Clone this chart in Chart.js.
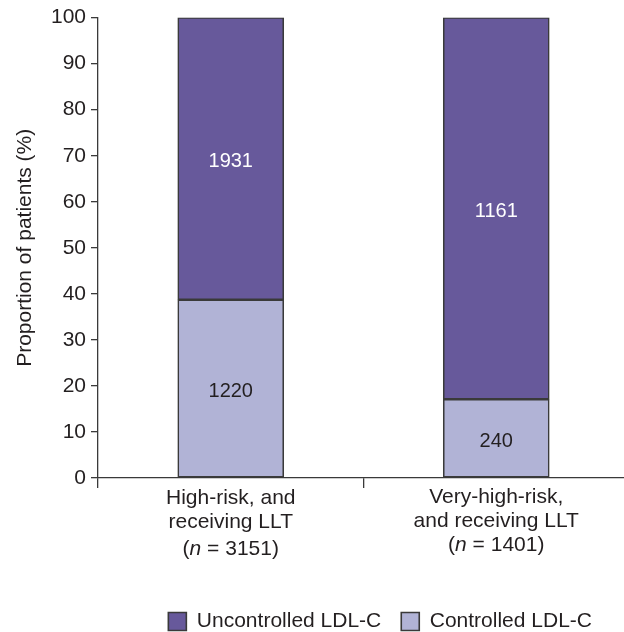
<!DOCTYPE html>
<html>
<head>
<meta charset="utf-8">
<script src="https://cdn.jsdelivr.net/npm/chart.js@4/dist/chart.umd.min.js"></script>
<style>
html,body{margin:0;padding:0;background:#fff;overflow:hidden;}
#wrap{width:624px;height:632px;position:relative;}
</style>
</head>
<body>
<div id="wrap"><canvas id="c" width="624" height="632"></canvas></div>
<script>
// ---- data ----
const categoryLines = [["High-risk, and", "receiving LLT"], ["Very-high-risk,", "and receiving LLT"]];
const categoryN = [3151, 1401];
const controlledPct = [38.7, 17.1];
const uncontrolledPct = [61.3, 82.9];
const controlledCounts = [1220, 240];
const uncontrolledCounts = [1931, 1161];
const seriesNames = ["Controlled LDL-C", "Uncontrolled LDL-C"];
const yTicks = [0, 10, 20, 30, 40, 50, 60, 70, 80, 90, 100];

const FONT = "'Liberation Sans', Arial, Helvetica, sans-serif";
const TXT = '#231f20';
const AXIS = '#3a3a3a';
const FS = 21;

const barLabelPlugin = {
  id: 'barLabels',
  afterDatasetsDraw(chart) {
    const ctx = chart.ctx;
    const counts = [controlledCounts, uncontrolledCounts];
    const colors = [TXT, '#ffffff'];
    ctx.save();
    ctx.font = '20px ' + FONT;
    ctx.textAlign = 'center';
    ctx.textBaseline = 'middle';
    chart.data.datasets.forEach((ds, di) => {
      const meta = chart.getDatasetMeta(di);
      meta.data.forEach((el, i) => {
        const yc = (el.y + el.base) / 2 + 3;
        ctx.fillStyle = colors[di];
        ctx.fillText(String(counts[di][i]), el.x, yc);
      });
    });
    ctx.restore();
  }
};

const layoutTweakPlugin = {
  id: 'layoutTweak',
  afterLayout(chart) {
    const lg = chart.legend;
    if (lg) { lg.top += 10; lg.bottom += 10; lg.left -= 12; lg.right -= 12; }
    const xs = chart.scales.x;
    if (xs) { xs.right += 5; xs.width += 5; xs.configure(); }
  }
};

const xLabelPlugin = {
  id: 'xLabels',
  afterDraw(chart) {
    const ctx = chart.ctx;
    const xs = chart.scales.x;
    ctx.save();
    ctx.fillStyle = TXT;
    ctx.textBaseline = 'middle';
    const lineY = [[498, 522, 549], [497, 521, 545]];
    categoryLines.forEach((lines, i) => {
      const x = xs.getPixelForValue(i);
      ctx.font = FS + 'px ' + FONT;
      ctx.textAlign = 'center';
      lines.forEach((ln, j) => ctx.fillText(ln, x, lineY[i][j]));
      const y3 = lineY[i][2];
      const partA = '(';
      const partN = 'n';
      const partB = ' = ' + categoryN[i] + ')';
      ctx.font = FS + 'px ' + FONT;
      const wA = ctx.measureText(partA).width;
      const wB = ctx.measureText(partB).width;
      ctx.font = 'italic ' + FS + 'px ' + FONT;
      const wN = ctx.measureText(partN).width;
      const sx = x - (wA + wN + wB) / 2;
      ctx.textAlign = 'left';
      ctx.font = FS + 'px ' + FONT;
      ctx.fillText(partA, sx, y3);
      ctx.font = 'italic ' + FS + 'px ' + FONT;
      ctx.fillText(partN, sx + wA, y3);
      ctx.font = FS + 'px ' + FONT;
      ctx.fillText(partB, sx + wA + wN, y3);
    });
    ctx.restore();
  }
};

new Chart(document.getElementById('c'), {
  type: 'bar',
  data: {
    labels: categoryLines.map(l => l.join(' ')),
    datasets: [
      {
        label: seriesNames[0],
        data: controlledPct,
        backgroundColor: '#b1b3d6',
        borderColor: AXIS,
        borderWidth: 1.6,
        borderSkipped: false,
        barThickness: 106
      },
      {
        label: seriesNames[1],
        data: uncontrolledPct,
        backgroundColor: '#67599b',
        borderColor: AXIS,
        borderWidth: 1.6,
        borderSkipped: false,
        barThickness: 106
      }
    ]
  },
  options: {
    responsive: false,
    animation: false,
    devicePixelRatio: 1,
    layout: { padding: { top: 17, left: 9, right: 0, bottom: 0 } },
    plugins: {
      legend: {
        position: 'bottom',
        align: 'end',
        reverse: true,
        labels: {
          boxWidth: 18,
          boxHeight: 18,
          padding: 20,
          color: TXT,
          font: { size: FS, family: FONT }
        }
      },
      tooltip: { enabled: false }
    },
    scales: {
      x: {
        stacked: true,
        grid: {
          offset: true,
          drawOnChartArea: false,
          drawTicks: true,
          tickLength: 10,
          color: AXIS,
          lineWidth: 1.3
        },
        border: { display: true, color: AXIS, width: 1.3 },
        ticks: { color: 'rgba(0,0,0,0)', callback: () => '' },
        afterFit(scale) {
          const lg = scale.chart.legend;
          scale.height = scale.chart.height - 478 - (lg ? lg.height : 0);
        }
      },
      y: {
        stacked: true,
        min: 0,
        max: 100,
        afterBuildTicks(scale) { scale.ticks = yTicks.map(v => ({ value: v })); },
        grid: {
          drawOnChartArea: false,
          drawTicks: true,
          tickLength: 7,
          color: AXIS,
          lineWidth: 1.3
        },
        border: { display: true, color: AXIS, width: 1.3 },
        ticks: {
          color: TXT,
          padding: 5,
          font: { size: FS, family: FONT }
        },
        title: {
          display: true,
          text: 'Proportion of patients (%)',
          color: TXT,
          font: { size: FS, family: FONT },
          padding: { top: 4, bottom: 4 }
        },
        afterFit(scale) { scale.width = 89; }
      }
    }
  },
  plugins: [barLabelPlugin, xLabelPlugin, layoutTweakPlugin]
});
</script>
</body>
</html>
